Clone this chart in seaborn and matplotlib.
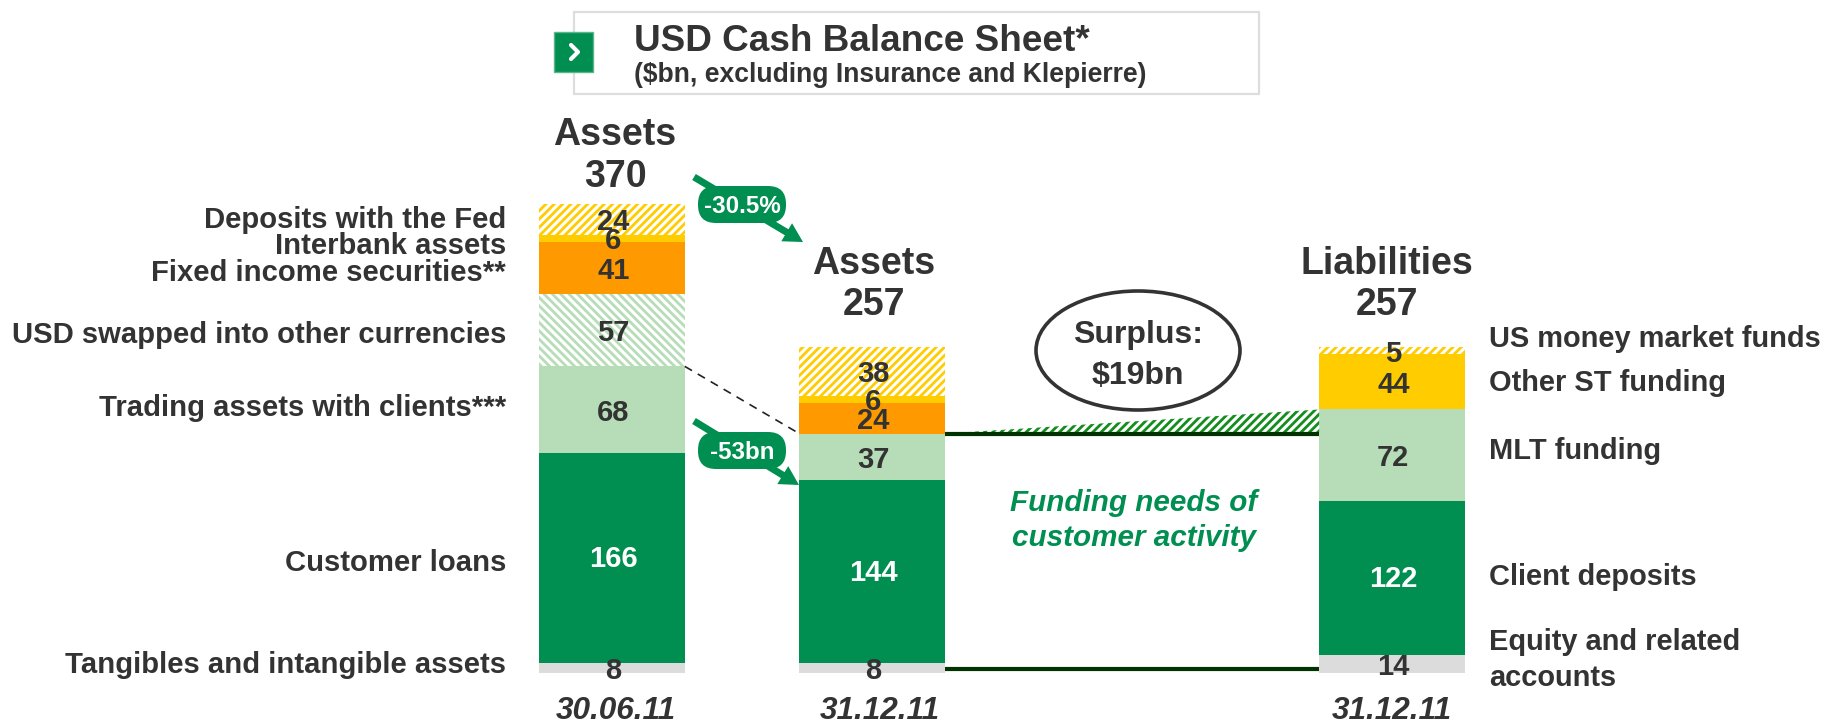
import numpy as np
import pandas as pd
import matplotlib.pyplot as plt
from matplotlib.patches import Ellipse, FancyArrow, FancyBboxPatch, Rectangle
import seaborn as sns

sns.set_theme(style="white")
plt.rcParams['font.family'] = ['Liberation Sans', 'DejaVu Sans']
plt.rcParams['hatch.linewidth'] = 2.0

TEXT = "#333333"
GREEN = "#008F51"
LIGHT = "#B7DDB8"
ORANGE = "#FF9900"
YELLOW = "#FFCC00"
GREY = "#DCDCDC"
DARK = "#003300"

# bottom to top
bar_order = ["30.06.11", "31.12.11 assets", "", "31.12.11 liabilities"]
assets_jun = [8, 166, 68, 57, 41, 6, 24]
assets_dec = [8, 144, 37, 24, 6, 38]
liabilities_dec = [14, 122, 72, 44, 5]
surplus = 19

colors_jun = [GREY, GREEN, LIGHT, LIGHT, ORANGE, YELLOW, YELLOW]
hatch_jun = [None, None, None, "\\\\\\\\", None, None, "////"]
colors_dec = [GREY, GREEN, LIGHT, ORANGE, YELLOW, YELLOW]
hatch_dec = [None, None, None, None, None, "////"]
colors_liab = [GREY, GREEN, LIGHT, YELLOW, YELLOW]
hatch_liab = [None, None, None, None, "////"]

left_labels = ["Tangibles and intangible assets", "Customer loans", "Trading assets with clients***",
               "USD swapped into other currencies", "Fixed income securities**", "Interbank assets",
               "Deposits with the Fed"]
left_label_y = [665, 563, 408, 335, 273, 246, 220]
right_labels = ["Equity and related", "accounts", "Client deposits", "MLT funding", "Other ST funding",
                "US money market funds"]
right_label_y = [642, 678, 577, 451, 383, 339]
headers = [("Assets", "370", 615), ("Assets", "257", 874), ("Liabilities", "257", 1387)]
header_y = [(135, 177), (264, 305), (264, 305)]
date_labels = ["30.06.11", "31.12.11", "31.12.11"]
date_x = [616, 880, 1392]

W, H = 1827, 725
BAR_W = 0.56
fig = plt.figure(figsize=(W / 100, H / 100), dpi=100)
ax = fig.add_axes([0, 0, 1, 1])


def stack(bar, values, colors, hatches):
    bottom = 0
    for v, c, h in zip(values, colors, hatches):
        if h is None:
            sns.barplot(x=[bar], y=[v], order=bar_order, bottom=bottom, color=c, saturation=1,
                        width=BAR_W, linewidth=0, ax=ax)
        else:
            sns.barplot(x=[bar], y=[v], order=bar_order, bottom=bottom, color="white", saturation=1,
                        width=BAR_W, linewidth=0, edgecolor=c, hatch=h, ax=ax)
        i = bar_order.index(bar)
        txt = "white" if c == GREEN else TEXT
        nudge = 0.8 if c == GREEN else 2.4
        ax.text(i + 0.005, bottom + v / 2 - nudge, str(v), ha="center", va="center", fontsize=21,
                fontweight="bold", color=txt)
        bottom += v


stack(bar_order[0], assets_jun, colors_jun, hatch_jun)
stack(bar_order[1], assets_dec, colors_dec, hatch_dec)
stack(bar_order[3], liabilities_dec, colors_liab, hatch_liab)

# same pixel placement as the slide: 260px per slot, 1.267px per $bn
ax.set_xlim(-612 / 260, (W - 612) / 260)
ax.set_ylim(-(H - 673) / 1.267, 673 / 1.267)
ax.axis("off")

# funding gap between the two 31.12.11 bars
gap_left = 1 + BAR_W / 2
gap_right = 3 - BAR_W / 2
customer_top = sum(assets_dec[:3])
ax.fill_between([gap_left, gap_right], [customer_top, customer_top], [customer_top, customer_top + surplus],
                facecolor="white", edgecolor="#148C1E", hatch="////", linewidth=0)
ax.plot([gap_left, gap_right], [customer_top, customer_top], color=DARK, lw=3, solid_capstyle="butt")
ax.plot([gap_left, gap_right], [3, 3], color=DARK, lw=3, solid_capstyle="butt")
ax.plot([BAR_W / 2, 1 - BAR_W / 2], [sum(assets_jun[:3]), customer_top], color="#222222", lw=1.2, ls=(0, (5, 4)))

# pixel overlay for the slide furniture
ov = fig.add_axes([0, 0, 1, 1], facecolor="none")
ov.set_xlim(0, W)
ov.set_ylim(H, 0)
ov.axis("off")

ov.add_patch(Rectangle((574, 12), 685, 82, facecolor="white", edgecolor="#DDDDDD", lw=1.6))
ov.add_patch(Rectangle((554, 32), 39, 40, facecolor=GREEN, edgecolor="#5DB58D", lw=1))
ov.plot([571, 578, 571], [45, 52, 59], color="white", lw=3)
ov.text(634, 41, "USD Cash Balance Sheet*", fontsize=26.6, fontweight="bold", color=TEXT, va="center")
ov.text(634, 75, "($bn, excluding Insurance and Klepierre)", fontsize=19.1, fontweight="bold", color=TEXT, va="center")

for s, y in zip(left_labels, left_label_y):
    ov.text(506, y, s, ha="right", va="center", fontsize=21.1, fontweight="bold", color=TEXT)
for s, y in zip(right_labels, right_label_y):
    ov.text(1489, y, s, ha="left", va="center", fontsize=20.9, fontweight="bold", color=TEXT)
for (a, b, x), (y1, y2) in zip(headers, header_y):
    ov.text(x, y1, a, ha="center", va="center", fontsize=27, fontweight="bold", color=TEXT)
    ov.text(x, y2, b, ha="center", va="center", fontsize=27, fontweight="bold", color=TEXT)
for s, x in zip(date_labels, date_x):
    ov.text(x, 711, s, ha="center", va="center", fontsize=22.7, fontweight="bold", fontstyle="italic", color=TEXT)

ov.add_patch(Ellipse((1138, 350.5), 204, 119, facecolor="white", edgecolor=TEXT, lw=2.6))
ov.text(1138, 335, "Surplus:", ha="center", va="center", fontsize=23, fontweight="bold", color=TEXT)
ov.text(1138, 376, "$19bn", ha="center", va="center", fontsize=23, fontweight="bold", color=TEXT)
ov.text(1134, 503, "Funding needs of", ha="center", va="center", fontsize=21.3, fontweight="bold", fontstyle="italic", color=GREEN)
ov.text(1134, 538, "customer activity", ha="center", va="center", fontsize=21.3, fontweight="bold", fontstyle="italic", color=GREEN)

for (x0, y0, x1, y1), py, s in [((694, 177, 803, 242), 186, "-30.5%"), ((694, 421, 799, 485), 432, "-53bn")]:
    ov.add_patch(FancyArrow(x0, y0, x1 - x0, y1 - y0, width=7, head_width=21, head_length=19,
                            length_includes_head=True, color=GREEN, lw=0))
    ov.add_patch(FancyBboxPatch((698, py), 88, 37, boxstyle="round,pad=0,rounding_size=18",
                                facecolor=GREEN, edgecolor=GREEN, lw=0))
    ov.text(742, py + 20, s, ha="center", va="center", fontsize=17.4, fontweight="bold", color="white")

fig.savefig("out.png", dpi=100)
